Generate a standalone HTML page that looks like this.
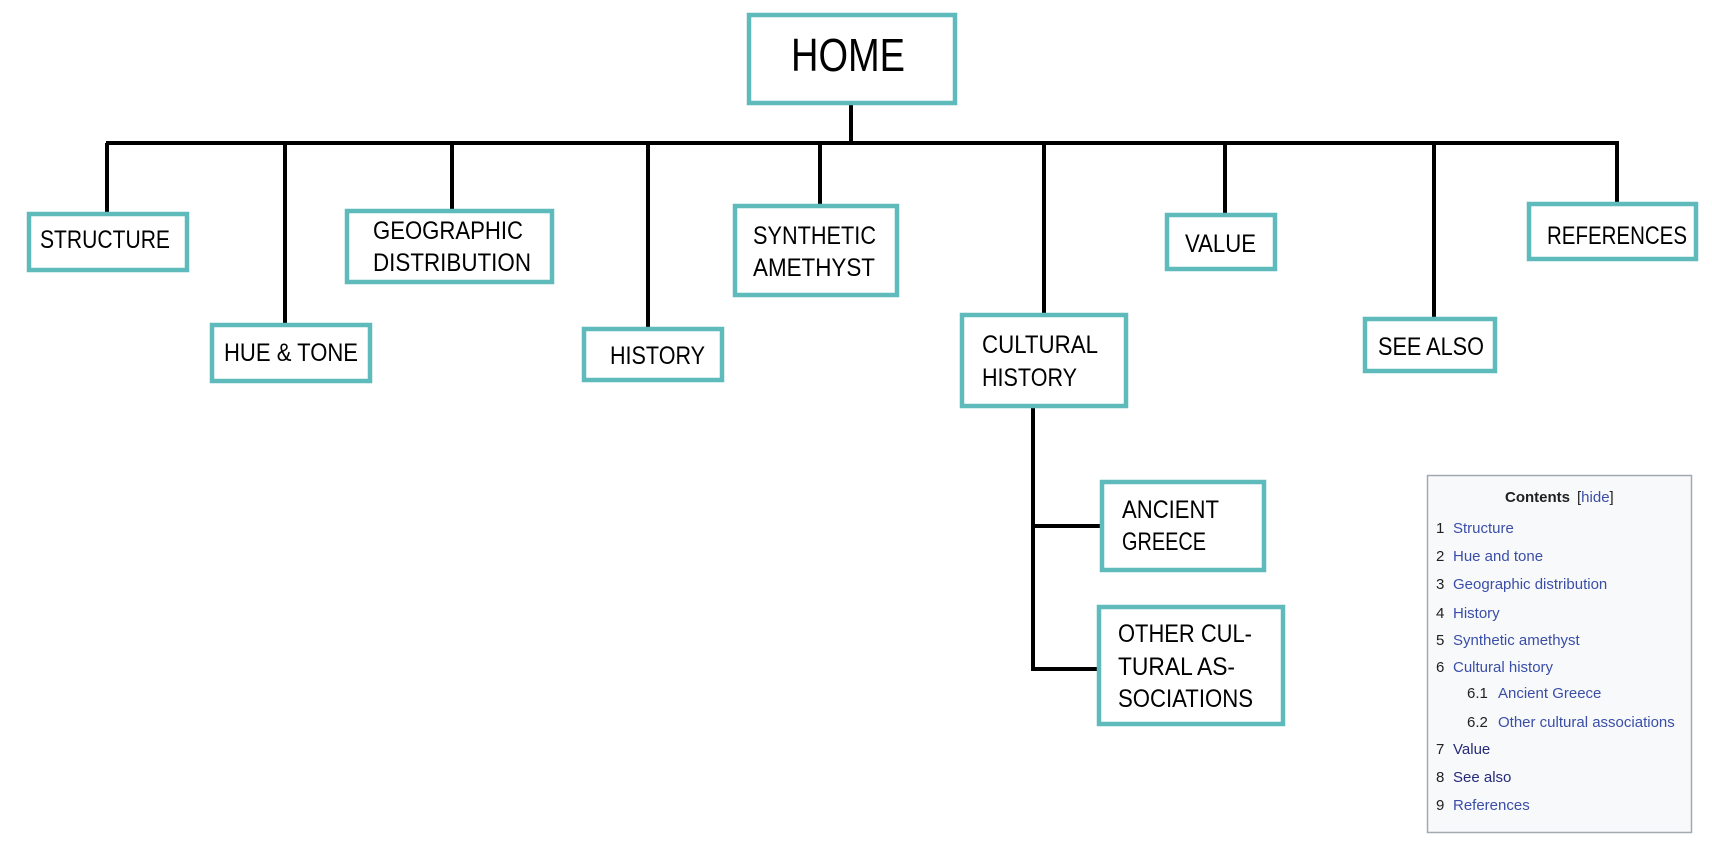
<!DOCTYPE html>
<html><head><meta charset="utf-8"><style>
html,body{margin:0;padding:0;background:#fff;}
svg{display:block;}
.n{font-family:"Liberation Sans",sans-serif;font-size:25px;fill:#000;}
.b{fill:#fff;stroke:#5fbbbb;stroke-width:4.5;}
.l{stroke:#000;stroke-width:4;fill:none;}
.t{font-family:"Liberation Sans",sans-serif;font-size:15px;fill:#202122;}
.a{fill:#3a4ea8;}
.v{fill:#252a7a;}
</style></head><body>
<svg width="1712" height="846" viewBox="0 0 1712 846" xmlns="http://www.w3.org/2000/svg">
<path class="l" d="M851 105 V143 M106 143 H1619"/>
<path class="l" d="M107 143 V212 M285 143 V323 M452 143 V209 M648 143 V327 M820 143 V204 M1044 143 V314 M1225 143 V213 M1434 143 V317 M1617 143 V202"/>
<path class="l" d="M1033 407 V669 H1097 M1033 526 H1100"/>
<rect class="b" x="749" y="15" width="206" height="88"/>
<rect class="b" x="29" y="214" width="158" height="56"/>
<rect class="b" x="212" y="325" width="158" height="56"/>
<rect class="b" x="347" y="211" width="205" height="71"/>
<rect class="b" x="584" y="329" width="138" height="51"/>
<rect class="b" x="735" y="206" width="162" height="89"/>
<rect class="b" x="962" y="315" width="164" height="91"/>
<rect class="b" x="1167" y="215" width="108" height="54"/>
<rect class="b" x="1365" y="319" width="130" height="52"/>
<rect class="b" x="1529" y="204" width="167" height="55"/>
<rect class="b" x="1102" y="482" width="162" height="88"/>
<rect class="b" x="1099" y="607" width="184" height="117"/>
<text class="n" x="791" y="71" style="font-size:46px" textLength="114" lengthAdjust="spacingAndGlyphs">HOME</text>
<text class="n" x="40" y="248" textLength="130" lengthAdjust="spacingAndGlyphs">STRUCTURE</text>
<text class="n" x="224" y="361" textLength="134" lengthAdjust="spacingAndGlyphs">HUE &amp; TONE</text>
<text class="n" x="373" y="239" textLength="150" lengthAdjust="spacingAndGlyphs">GEOGRAPHIC</text>
<text class="n" x="373" y="271" textLength="158" lengthAdjust="spacingAndGlyphs">DISTRIBUTION</text>
<text class="n" x="610" y="364" textLength="95" lengthAdjust="spacingAndGlyphs">HISTORY</text>
<text class="n" x="753" y="244" textLength="123" lengthAdjust="spacingAndGlyphs">SYNTHETIC</text>
<text class="n" x="753" y="276" textLength="122" lengthAdjust="spacingAndGlyphs">AMETHYST</text>
<text class="n" x="982" y="353" textLength="116" lengthAdjust="spacingAndGlyphs">CULTURAL</text>
<text class="n" x="982" y="386" textLength="95" lengthAdjust="spacingAndGlyphs">HISTORY</text>
<text class="n" x="1185" y="252" textLength="71" lengthAdjust="spacingAndGlyphs">VALUE</text>
<text class="n" x="1378" y="355" textLength="106" lengthAdjust="spacingAndGlyphs">SEE ALSO</text>
<text class="n" x="1547" y="244" textLength="140" lengthAdjust="spacingAndGlyphs">REFERENCES</text>
<text class="n" x="1122" y="518" textLength="97" lengthAdjust="spacingAndGlyphs">ANCIENT</text>
<text class="n" x="1122" y="550" textLength="84" lengthAdjust="spacingAndGlyphs">GREECE</text>
<text class="n" x="1118" y="642" textLength="134" lengthAdjust="spacingAndGlyphs">OTHER CUL-</text>
<text class="n" x="1118" y="675" textLength="117" lengthAdjust="spacingAndGlyphs">TURAL AS-</text>
<text class="n" x="1118" y="707" textLength="135" lengthAdjust="spacingAndGlyphs">SOCIATIONS</text>
<rect x="1427.5" y="475.5" width="264" height="357" fill="#f8f9fa" stroke="#a2a9b1" stroke-width="1.5"/>
<text class="t" x="1505" y="502" style="font-weight:bold">Contents</text>
<text class="t" x="1577" y="502"><tspan>[</tspan><tspan class="a">hide</tspan><tspan>]</tspan></text>
<text class="t" x="1436" y="533">1</text><text class="t a" x="1453" y="533">Structure</text>
<text class="t" x="1436" y="561">2</text><text class="t a" x="1453" y="561">Hue and tone</text>
<text class="t" x="1436" y="589">3</text><text class="t a" x="1453" y="589">Geographic distribution</text>
<text class="t" x="1436" y="618">4</text><text class="t a" x="1453" y="618">History</text>
<text class="t" x="1436" y="645">5</text><text class="t a" x="1453" y="645">Synthetic amethyst</text>
<text class="t" x="1436" y="672">6</text><text class="t a" x="1453" y="672">Cultural history</text>
<text class="t" x="1467" y="698">6.1</text><text class="t a" x="1498" y="698">Ancient Greece</text>
<text class="t" x="1467" y="727">6.2</text><text class="t a" x="1498" y="727">Other cultural associations</text>
<text class="t" x="1436" y="754">7</text><text class="t v" x="1453" y="754">Value</text>
<text class="t" x="1436" y="782">8</text><text class="t v" x="1453" y="782">See also</text>
<text class="t" x="1436" y="810">9</text><text class="t a" x="1453" y="810">References</text>
</svg>
</body></html>
